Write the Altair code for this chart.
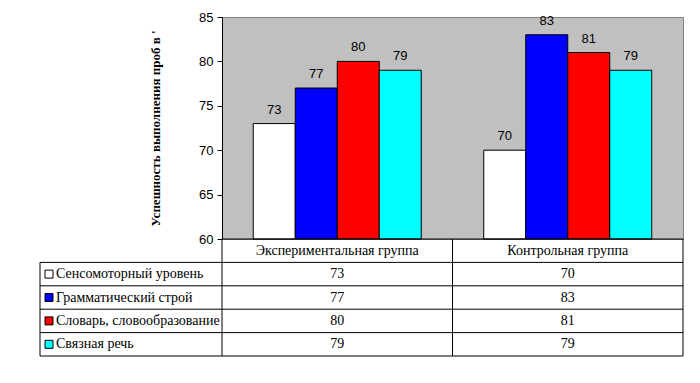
import altair as alt
import pandas as pd

groups = ["Экспериментальная группа", "Контрольная группа"]
series = ["Сенсомоторный уровень", "Грамматический строй", "Словарь, словообразование", "Связная речь"]
colors = ["#FFFFFF", "#0000FF", "#FF0000", "#00FFFF"]
exp_vals = [73, 77, 80, 79]
ctrl_vals = [70, 83, 81, 79]
y_ticks = [60, 65, 70, 75, 80, 85]
y_title = "Успешность выполнения проб в '"

W, H = 461, 222
TABLE_H = 117
LEG_W = 182
SANS = "Liberation Sans"
SERIF = "Liberation Serif"
TFS = 14

rows = []
for g, vals in zip(groups, [exp_vals, ctrl_vals]):
    for si, (s, v) in enumerate(zip(series, vals)):
        rows.append({"group": g, "series": s, "value": v, "trow": si + 1.5})
df = pd.DataFrame(rows)
hdr = pd.DataFrame({"group": groups, "trow": [0.5, 0.5]})
leg = pd.DataFrame({"series": series, "trow": [i + 1.5 for i in range(len(series))]})
hlines = pd.DataFrame({"b": [1, 2, 3, 4, 5]})
vspan = pd.DataFrame({"b0": [0], "b1": [5]})
vspan_leg = pd.DataFrame({"b0": [1], "b1": [5]})
axis_line = pd.DataFrame({"b": [0]})

x = alt.X("group:N", sort=groups, scale=alt.Scale(domain=groups, paddingInner=0, paddingOuter=0), axis=None)
xo = alt.XOffset("series:N", sort=series,
                 scale=alt.Scale(domain=series, paddingInner=0, paddingOuter=0.744))
color = alt.Color("series:N", scale=alt.Scale(domain=series, range=colors), legend=None)
yscale = alt.Scale(domain=[60, 85], zero=False, nice=False)
tscale = alt.Scale(domain=[0, 5], range=[H, H + TABLE_H], zero=False, nice=False)

bars = alt.Chart(df).mark_bar(stroke="black", strokeWidth=1).encode(
    x=x, xOffset=xo, color=color,
    y=alt.Y("value:Q", scale=yscale,
            axis=alt.Axis(values=y_ticks, title=y_title, grid=False, domainColor="black",
                          tickColor="black", tickSize=5, labelPadding=4,
                          labelFont=SANS, labelFontSize=13, labelColor="black",
                          titleFont=SERIF, titleFontSize=13, titleFontWeight="bold",
                          titleColor="black", titlePadding=36)),
    y2=alt.datum(60),
)

labels = alt.Chart(df).mark_text(font=SANS, fontSize=13, baseline="alphabetic", dy=-10, color="black").encode(
    x=x, xOffset=xo,
    y=alt.Y("value:Q", scale=yscale, axis=None),
    text="value:Q",
)

tbl_vals = alt.Chart(df).mark_text(font=SERIF, fontSize=TFS, color="black", baseline="middle").encode(
    x=x,
    y=alt.Y("trow:Q", scale=tscale, axis=None),
    text="value:Q",
)

tbl_hdr = alt.Chart(hdr).mark_text(font=SERIF, fontSize=TFS, color="black", baseline="middle").encode(
    x=x,
    y=alt.Y("trow:Q", scale=tscale, axis=None),
    text="group:N",
)

leg_text = alt.Chart(leg).mark_text(font=SERIF, fontSize=TFS, color="black", baseline="middle", align="left").encode(
    x=alt.value(-166),
    y=alt.Y("trow:Q", scale=tscale, axis=None),
    text="series:N",
)

leg_sq = alt.Chart(leg).mark_square(size=64, stroke="black", strokeWidth=1, opacity=1).encode(
    x=alt.value(-173),
    y=alt.Y("trow:Q", scale=tscale, axis=None),
    color=color,
)

h_rules = alt.Chart(hlines).mark_rule(color="black", strokeWidth=1).encode(
    x=alt.value(-LEG_W), x2=alt.value(W),
    y=alt.Y("b:Q", scale=tscale, axis=None),
)

axis_rule = alt.Chart(axis_line).mark_rule(color="black", strokeWidth=1).encode(
    x=alt.value(0), x2=alt.value(W),
    y=alt.Y("b:Q", scale=tscale, axis=None),
)

def vrule(px, data):
    return alt.Chart(data).mark_rule(color="black", strokeWidth=1).encode(
        x=alt.value(px),
        y=alt.Y("b0:Q", scale=tscale, axis=None),
        y2="b1:Q",
    )

chart = alt.layer(
    bars, labels, tbl_vals, tbl_hdr, leg_text, leg_sq, h_rules, axis_rule,
    vrule(0, vspan), vrule(W / 2, vspan), vrule(W, vspan), vrule(-LEG_W, vspan_leg),
).resolve_scale(y="independent").properties(
    width=W, height=H,
    padding={"left": 214, "top": 9, "right": 9, "bottom": 136},
    autosize=alt.AutoSizeParams(type="none"),
    background="white",
).configure_view(fill="#C0C0C0", stroke="#808080", strokeWidth=1)

chart.save("out.html", embed_options={"renderer": "svg", "actions": False})
